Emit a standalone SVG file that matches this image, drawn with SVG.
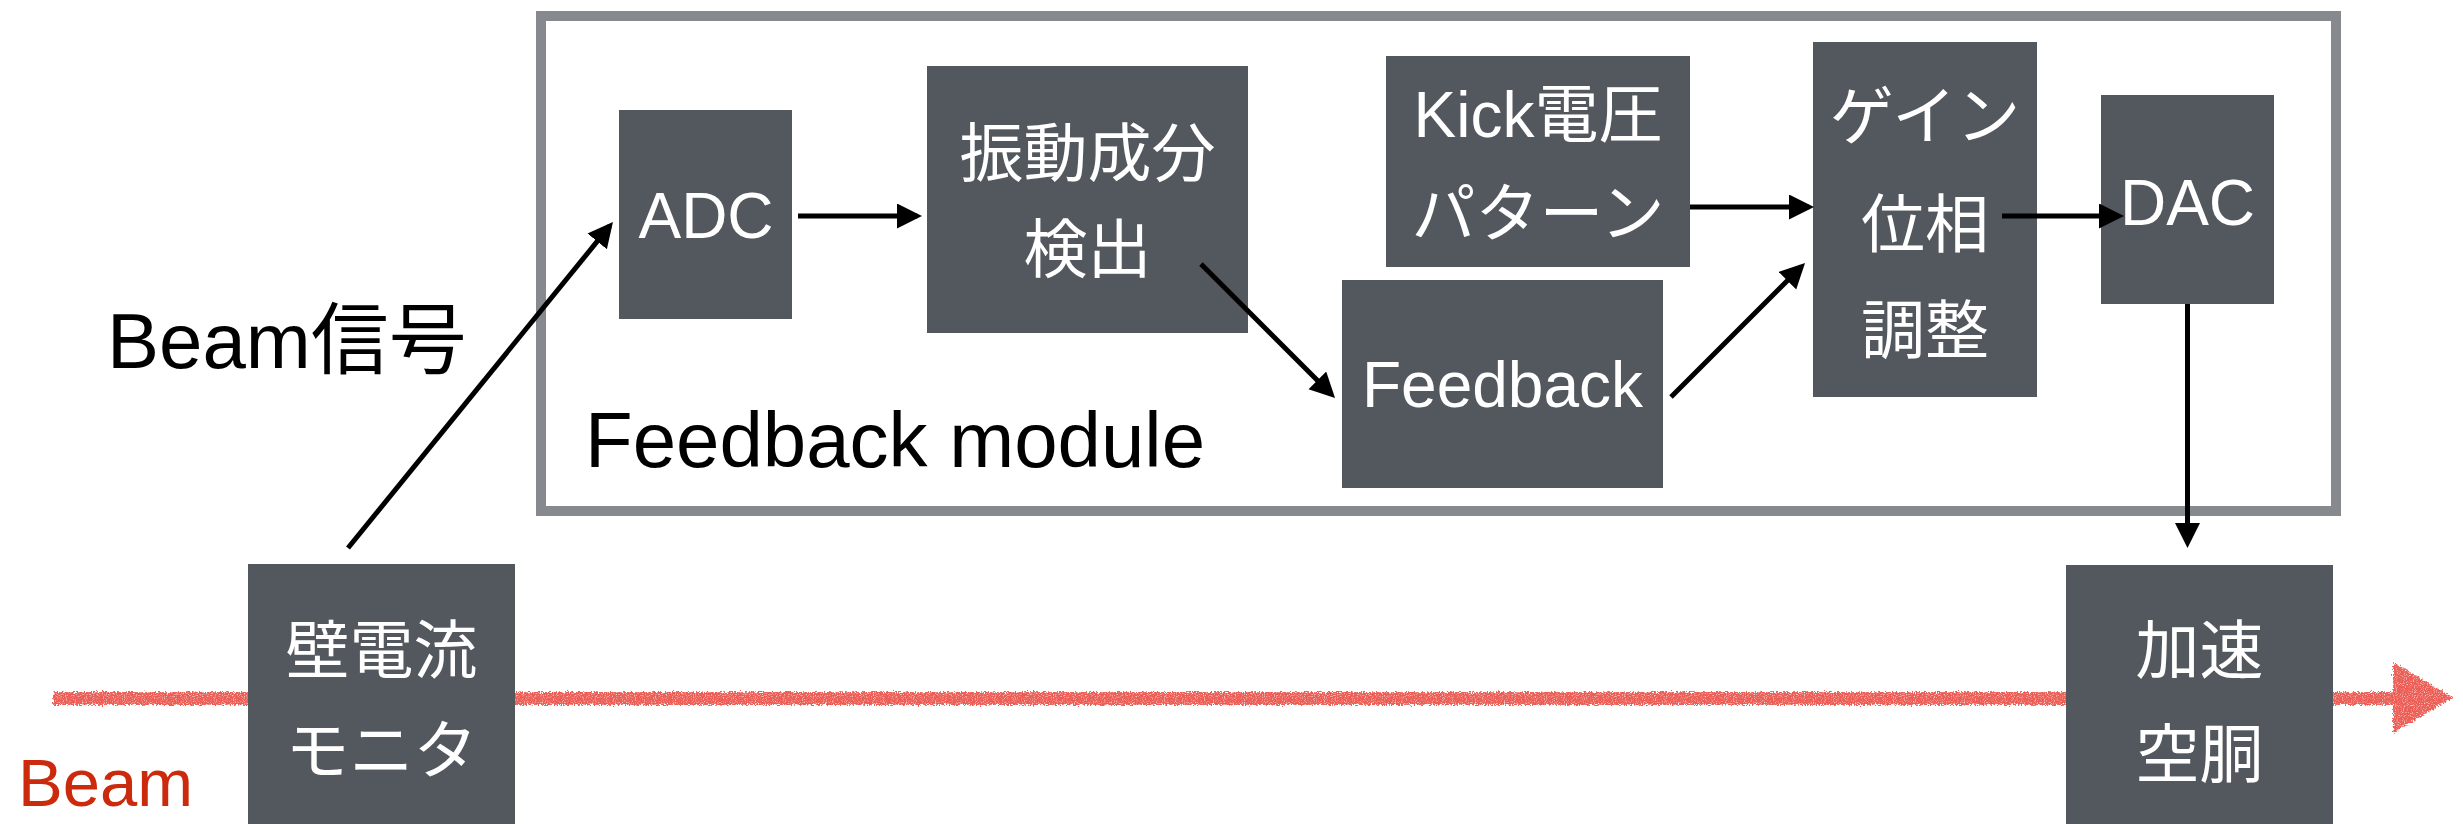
<svg xmlns="http://www.w3.org/2000/svg" width="2463" height="824" viewBox="0 0 2463 824">
  <style>
    .box { fill: #53575e; }
    .lbl { fill: #ffffff; font-family: "Liberation Sans", "Noto Sans CJK JP", sans-serif; font-size: 64px; text-anchor: middle; }
    .cap { fill: #000000; font-family: "Liberation Sans", "Noto Sans CJK JP", sans-serif; font-size: 78px; }
    .wire { stroke: #000000; stroke-width: 5; fill: none; marker-end: url(#head); }
  </style>
  <defs>
    <marker id="head" markerUnits="userSpaceOnUse" markerWidth="26" markerHeight="26" refX="20" refY="12.5" orient="auto" viewBox="0 0 26 26">
      <path d="M0,0 L25,12.5 L0,25 z" fill="#000000"/>
    </marker>
    <!-- chalky roughness for the beam line -->
    <filter id="chalk" filterUnits="userSpaceOnUse" x="30" y="640" width="2433" height="110">
      <feTurbulence type="fractalNoise" baseFrequency="0.55" numOctaves="2" seed="7" result="noise"/>
      <feDisplacementMap in="SourceGraphic" in2="noise" scale="6" xChannelSelector="R" yChannelSelector="G" result="rough"/>
      <feTurbulence type="fractalNoise" baseFrequency="0.9" numOctaves="1" seed="2" result="speck"/>
      <feColorMatrix in="speck" type="matrix" values="0 0 0 0 0  0 0 0 0 0  0 0 0 0 0  0 0 0 -2.4 2.2" result="mask"/>
      <feComposite in="rough" in2="mask" operator="in"/>
    </filter>
  </defs>

  <rect width="2463" height="824" fill="#ffffff"/>

  <!-- beam trajectory -->
  <g id="beam" filter="url(#chalk)">
    <rect x="53" y="692" width="2347" height="13" fill="#ec5d55"/>
    <path d="M2393,662 L2453,697.5 L2393,733 z" fill="#ec5d55"/>
  </g>

  <!-- feedback module frame -->
  <g id="feedback-module">
    <rect x="541" y="16" width="1795" height="495" fill="none" stroke="#86898e" stroke-width="10"/>
  </g>

  <g id="wall-current-monitor">
    <rect class="box" x="248" y="564" width="267" height="270"/>
    <text class="lbl" x="381.5" y="673">壁電流</text>
    <text class="lbl" x="381.5" y="773">モニタ</text>
  </g>

  <g id="adc">
    <rect class="box" x="619" y="110" width="173" height="209"/>
    <text class="lbl" x="706" y="238">ADC</text>
  </g>

  <g id="oscillation-detect">
    <rect class="box" x="927" y="66" width="321" height="267"/>
    <text class="lbl" x="1087.5" y="176">振動成分</text>
    <text class="lbl" x="1087.5" y="272">検出</text>
  </g>

  <g id="kick-pattern">
    <rect class="box" x="1386" y="56" width="304" height="211"/>
    <text class="lbl" x="1538" y="137">Kick電圧</text>
    <text class="lbl" x="1538" y="236">パターン</text>
  </g>

  <g id="feedback">
    <rect class="box" x="1342" y="280" width="321" height="208"/>
    <text class="lbl" x="1502.5" y="407">Feedback</text>
  </g>

  <g id="gain-phase">
    <rect class="box" x="1813" y="42" width="224" height="355"/>
    <text class="lbl" x="1925" y="139">ゲイン</text>
    <text class="lbl" x="1925" y="247">位相</text>
    <text class="lbl" x="1925" y="353">調整</text>
  </g>

  <g id="dac">
    <rect class="box" x="2101" y="95" width="173" height="209"/>
    <text class="lbl" x="2187.5" y="225">DAC</text>
  </g>

  <g id="cavity">
    <rect class="box" x="2066" y="565" width="267" height="270"/>
    <text class="lbl" x="2199.5" y="673">加速</text>
    <text class="lbl" x="2199.5" y="777">空胴</text>
  </g>

  <g id="labels">
    <text class="cap" x="107" y="368">Beam信号</text>
    <text class="cap" x="585" y="467">Feedback module</text>
    <text x="18" y="806" font-family="Liberation Sans, sans-serif" font-size="67" fill="#cc2a0c">Beam</text>
  </g>

  <g id="connectors">
    <line class="wire" x1="348" y1="548" x2="609.8" y2="225.9"/>
    <line class="wire" x1="798" y1="216" x2="917" y2="216"/>
    <line class="wire" x1="1201" y1="264" x2="1331.5" y2="394.5"/>
    <line class="wire" x1="1690" y1="207" x2="1809" y2="207"/>
    <line class="wire" x1="1671" y1="397" x2="1801.5" y2="266.5"/>
    <line class="wire" x1="2002" y1="216" x2="2119" y2="216"/>
    <line class="wire" x1="2187.5" y1="304" x2="2187.5" y2="543"/>
  </g>
</svg>
